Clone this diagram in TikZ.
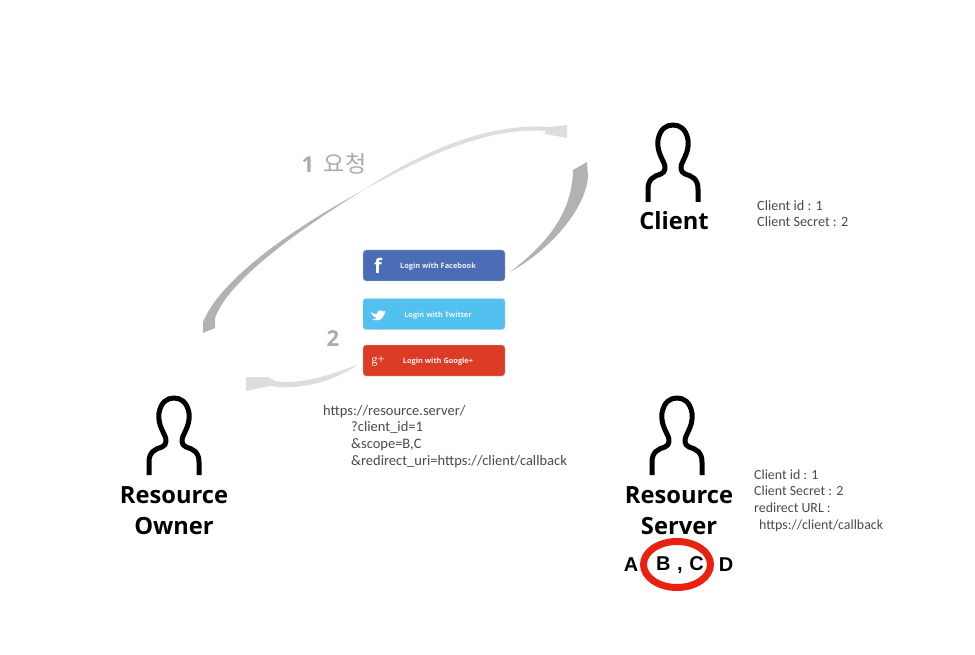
\documentclass[tikz,border=0pt]{standalone}
\usepackage{fontspec}
\usetikzlibrary{shapes.geometric}
\setmainfont{Open Sans}
\newfontfamily\thinfont{Carlito}
\newfontfamily\krfont{Noto Sans CJK KR}
\newfontfamily\capsfont{Liberation Sans}
\newfontfamily\plusfont{Liberation Serif}
\definecolor{fbblue}{HTML}{4A6DB5}
\definecolor{twblue}{HTML}{52C1EF}
\definecolor{gpred}{HTML}{DC3C26}
\definecolor{ringred}{HTML}{EA2110}
\definecolor{swoopdark}{HTML}{B2B2B2}
\definecolor{swooplight}{HTML}{DDDDDD}
\definecolor{stepgray}{HTML}{ABABAB}
\definecolor{notegray}{HTML}{4A4A4A}
\begin{document}
\begin{tikzpicture}[x=1pt,y=-1pt,node distance=31pt,
    title node/.style={font=\bfseries\fontsize{23.7}{28}\selectfont,inner sep=0pt},
    note node/.style={font=\thinfont\fontsize{14.2}{16.6}\selectfont,text=notegray,align=left,anchor=north west,inner sep=0pt},
    step node/.style={font=\bfseries\fontsize{22}{26}\selectfont,text=stepgray,inner sep=0pt},
    letter node/.style={font=\capsfont\bfseries\fontsize{20}{22}\selectfont,inner sep=0pt},
    login node/.style={draw=white!80!black,line width=0.4pt,rounded corners=3pt,minimum width=142pt,minimum height=31pt,inner sep=0pt,
      text=white!90!gray,text height=6pt,text depth=0pt,font=\bfseries\fontsize{7.4}{9}\selectfont},
    icon node/.style={text=white,inner sep=0pt},
    pics/person/.style={code={
      \draw[line width=5pt,line join=round]
        (-25,79) -- (-25,66) .. controls (-25,56) and (-19,53) .. (-12,51)
        .. controls (-7,49) and (-7,43) .. (-10,38)
        .. controls (-14,30) and (-16,24) .. (-15,17)
        .. controls (-13,6) and (-7,2) .. (0,2)
        .. controls (7,2) and (13,6) .. (15,17)
        .. controls (16,24) and (14,30) .. (10,38)
        .. controls (7,43) and (7,49) .. (12,51)
        .. controls (19,53) and (25,56) .. (25,66) -- (25,79);
    }}]
  \useasboundingbox (0,0) rectangle (975,655);

  % people
  \pic at (673,123) {person};
  \pic at (174,396) {person};
  \pic at (677,396) {person};

  \node[title node] (client) at (674,221) {Client};
  \node[title node] (owner) at (174,495) {Resource};
  \node[title node] (owner2) [below of=owner] {Owner};
  \node[title node] (server) at (679,495) {Resource};
  \node[title node] (server2) [below of=server] {Server};

  % notes
  \node[note node] (clientnote) at (757,200) {Client id : 1\\Client Secret : 2};
  \node[note node,font=\thinfont\fontsize{13.9}{16.6}\selectfont] (servernote) at (754,469.5) {Client id : 1\\Client Secret : 2\\redirect URL :\\\hspace{5pt}https://client/callback};
  \node[note node,font=\thinfont\fontsize{14.5}{16.6}\selectfont] (urlnote) at (323,405) {https://resource.server/\\\hspace{28pt}?client\_id=1\\\hspace{28pt}\&scope=B,C\\\hspace{28pt}\&redirect\_uri=https://client/callback};

  % login buttons
  \node[login node,fill=fbblue] (facebook) at (434,265.5) {\hspace{8pt}Login with Facebook};
  \node[login node,fill=twblue] (twitter) at (434,314) {\hspace{8pt}Login with Twitter};
  \node[login node,fill=gpred] (google) at (434,360.5) {\hspace{8pt}Login with Google+};
  \node[icon node,font=\bfseries\fontsize{20}{20}\selectfont] (ficon) at (378,266) {f};
  \node[icon node,font=\plusfont\fontsize{12.5}{14}\selectfont] (gicon) at (378,361) {g+};
  \fill[white,shift={(48,41)},scale=0.87] (371,311) .. controls (373,313) and (375,314) .. (378,314)
    .. controls (378,310) and (382,308) .. (385,311)
    .. controls (386,311) and (387,310) .. (388,310)
    .. controls (388,311) and (387,312) .. (386,313)
    .. controls (387,313) and (387,313) .. (388,312)
    .. controls (387,314) and (386,314) .. (386,315)
    .. controls (385,320) and (379,323) .. (372,320)
    .. controls (375,320) and (376,320) .. (378,318)
    .. controls (375,318) and (374,317) .. (374,316)
    .. controls (373,315) and (371,313) .. (371,311) -- cycle;

  % swooshes
  \coordinate (ownerend) at (203,333);
  \coordinate (thinpoint) at (362,191);
  \coordinate (clientend) at (567,125);
  \coordinate (fbend) at (510,272);
  \coordinate (clientend2) at (587,162);
  \coordinate (gpend) at (357,365);
  \coordinate (ownerend2) at (246,377);

  \fill[swoopdark] (ownerend) -- (215,328) -- (215,318) .. controls (228,282) and (292,234) .. (thinpoint)
    .. controls (290,230) and (220,280) .. (203,322) -- cycle;
  \fill[swooplight] (thinpoint) .. controls (415,155) and (485,122) .. (550,127)
    -- (clientend) -- (567,138) -- (545,134) -- (545,131)
    .. controls (487,126) and (418,160) .. (thinpoint) -- cycle;
  \fill[swoopdark] (fbend) .. controls (545,245) and (572,215) .. (573,170)
    -- (clientend2) -- (588,177) .. controls (585,210) and (550,250) .. (fbend) -- cycle;
  \fill[swooplight] (gpend) .. controls (330,375) and (300,385) .. (275,381)
    -- (268,377) -- (ownerend2) -- (246,391) -- (270,386)
    .. controls (300,391) and (335,381) .. (gpend) -- cycle;

  % step labels
  \node[step node] (one) at (308,165) {1};
  \node[step node,font=\krfont\fontsize{23}{25}\selectfont] (request) at (345,164) {요청};
  \node[step node] (two) at (333,339) {2};

  % scopes
  \node[letter node] (a) at (631,565) {A};
  \node[letter node] (bc) at (680,565) {B\hspace{1pt} , \hspace{1pt}C};
  \node[letter node] (d) at (726,565) {D};
  \node[draw=ringred,line width=7pt,ellipse,minimum width=67pt,minimum height=46pt,inner sep=0pt] (ring) at (677,564.5) {};
\end{tikzpicture}
\end{document}
